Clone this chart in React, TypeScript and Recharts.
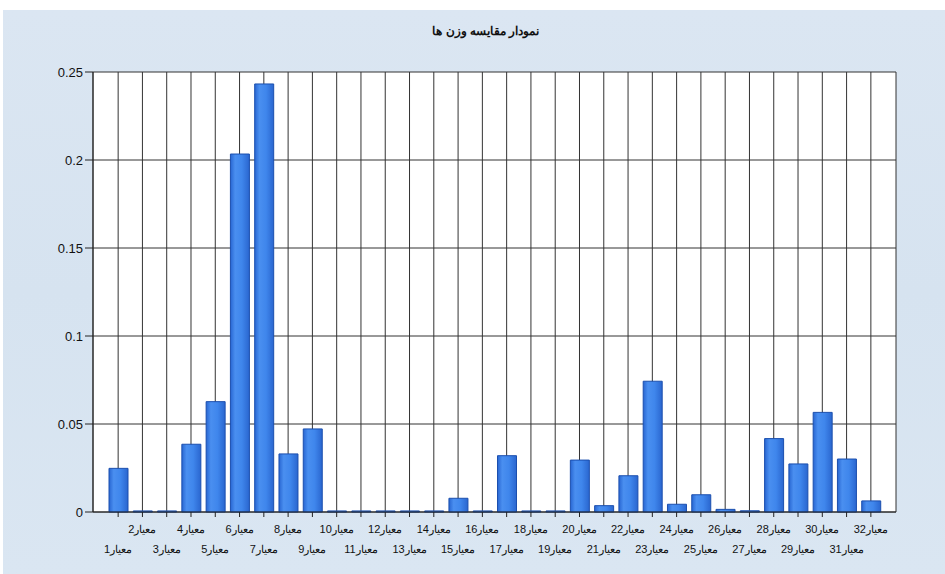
import React from 'react';
import { BarChart, Bar, XAxis, YAxis, CartesianGrid } from 'recharts';

const categories = Array.from({ length: 32 }, (_, i) => `معیار${i + 1}`);

const weights = [
  0.0248, 0.0006, 0.0006, 0.0385, 0.0627, 0.2034, 0.2432, 0.033,
  0.0472, 0.0006, 0.0006, 0.0006, 0.0006, 0.0006, 0.0078, 0.0006,
  0.032, 0.0006, 0.0006, 0.0295, 0.0036, 0.0206, 0.0743, 0.0044,
  0.0098, 0.0015, 0.0007, 0.0417, 0.0273, 0.0566, 0.0301, 0.0063,
];

const yTicks = [0, 0.05, 0.1, 0.15, 0.2, 0.25];

const data = categories.map((name, i) => ({ name, weight: weights[i] }));

const FONT = '"Liberation Sans Narrow", "Liberation Sans", Arial, sans-serif';

function XTick(props: any) {
  const { x, y, payload, index } = props;
  const lower = index % 2 === 0;
  return (
    <text
      x={x}
      y={y + (lower ? 34 : 14)}
      textAnchor="middle"
      fontSize={11}
      fontFamily={FONT}
      fill="#111"
    >
      {payload.value}
    </text>
  );
}

export default function App() {
  return (
    <div style={{ position: 'absolute', left: 0, top: 0, width: 945, height: 574, background: '#fff', overflow: 'hidden' }}>
      <div
        style={{
          position: 'absolute', left: 3, top: 10, width: 942, height: 564,
          background: 'linear-gradient(180deg, #dbe6f2 0%, #d6e3f0 50%, #dae6f2 100%)',
        }}
      />
      <div
        style={{
          position: 'absolute', left: 0, top: 24, width: 972, textAlign: 'center',
          fontFamily: FONT, fontWeight: 'bold', fontSize: 12, color: '#111', direction: 'rtl',
        }}
      >
        نمودار مقایسه وزن ها
      </div>
      <div style={{ position: 'absolute', left: 0, top: 0 }}>
        <BarChart
          width={945}
          height={574}
          data={data}
          margin={{ top: 72, right: 49, bottom: 12, left: 0 }}
          barSize={19}
        >
          <defs>
            <linearGradient id="barFill" x1="0" y1="0" x2="1" y2="0">
              <stop offset="0%" stopColor="#2866d2" />
              <stop offset="25%" stopColor="#4a8ff0" />
              <stop offset="60%" stopColor="#3f86ec" />
              <stop offset="100%" stopColor="#2a66cf" />
            </linearGradient>
          </defs>
          <CartesianGrid stroke="#333" strokeWidth={1} fill="#fff" />
          <XAxis
            dataKey="name"
            interval={0}
            padding={{ left: 13, right: 13 }}
            height={50}
            tickSize={5}
            tickLine={{ stroke: '#222' }}
            axisLine={{ stroke: '#222' }}
            tick={<XTick />}
          />
          <YAxis
            width={93}
            domain={[0, 0.25]}
            ticks={yTicks}
            tickSize={8}
            tickLine={{ stroke: '#222' }}
            axisLine={{ stroke: '#222' }}
            tick={{ fontSize: 13, fontFamily: FONT, fill: '#111' }}
            tickFormatter={(v: number) => String(v)}
          />
          <YAxis
            yAxisId="right"
            orientation="right"
            width={0}
            tick={false}
            tickLine={false}
            axisLine={{ stroke: '#222' }}
          />
          <Bar
            dataKey="weight"
            fill="url(#barFill)"
            stroke="#1b4fae"
            strokeWidth={1}
            isAnimationActive={false}
          />
        </BarChart>
      </div>
    </div>
  );
}
